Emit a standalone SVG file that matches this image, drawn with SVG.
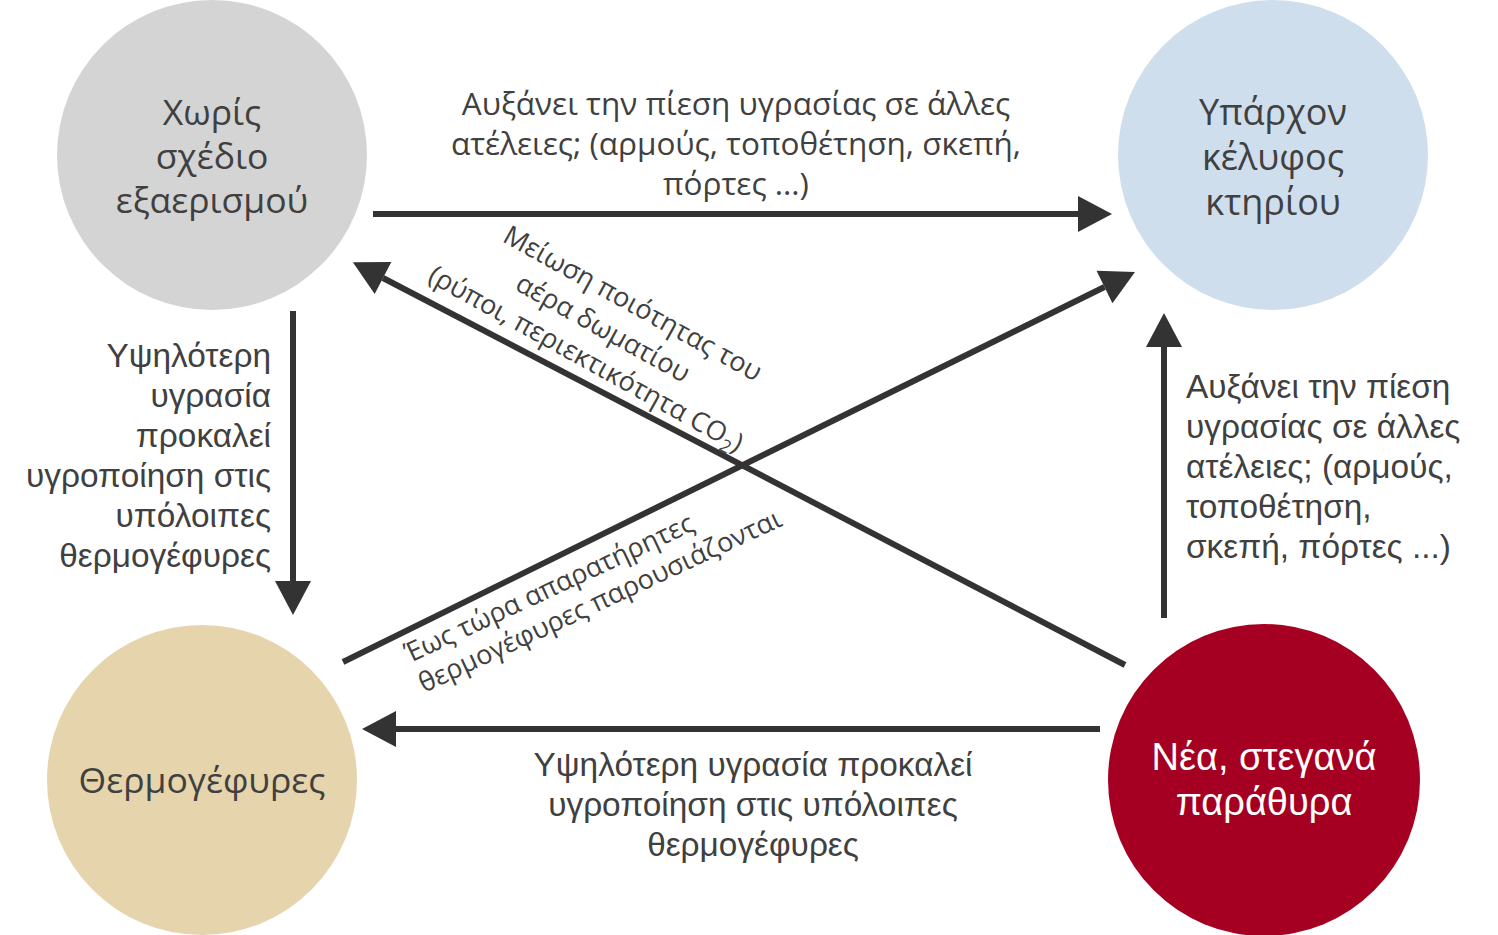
<svg xmlns="http://www.w3.org/2000/svg" width="1498" height="935" viewBox="0 0 1498 935">
<defs>
<marker id="ah" markerUnits="userSpaceOnUse" markerWidth="36" markerHeight="38" refX="0" refY="18" orient="auto" overflow="visible">
<path d="M0,0 L34,18 L0,36 Z" fill="#333333"/>
</marker>
<style>
.conn line{stroke:#333333;stroke-width:6;fill:none;marker-end:url(#ah)}
.ct{font-family:"Open Sans","DejaVu Sans",sans-serif;font-size:35.5px;fill:#404040;text-anchor:middle}
.lb{font-family:"Liberation Sans",Arial,sans-serif;font-size:33.4px;fill:#404040}
.wt{font-family:"Liberation Sans",Arial,sans-serif;font-size:38px;fill:#ffffff;text-anchor:middle}
.lt{font-family:"Open Sans","DejaVu Sans",sans-serif;font-size:31.5px;fill:#404040;text-anchor:middle}
.rt{font-family:"Open Sans","DejaVu Sans",sans-serif;font-size:27px;fill:#404040}
</style>
</defs>
<rect width="1498" height="935" fill="#ffffff"/>
<g id="node-no-ventilation">
<circle cx="212" cy="155" r="155" fill="#d4d4d4"/>
<text class="ct" x="212" y="125">Χωρίς</text>
<text class="ct" x="212" y="169">σχέδιο</text>
<text class="ct" x="212" y="213">εξαερισμού</text>
</g>
<g id="node-envelope">
<circle cx="1273" cy="155" r="155" fill="#cfdeec"/>
<text class="ct" x="1273" y="125" style="font-size:36px">Υπάρχον</text>
<text class="ct" x="1273" y="170" style="font-size:36px">κέλυφος</text>
<text class="ct" x="1273" y="215" style="font-size:36px">κτηρίου</text>
</g>
<g id="node-thermal-bridges">
<circle cx="202" cy="780" r="155" fill="#e5d4ac"/>
<text class="ct" x="202" y="793">Θερμογέφυρες</text>
</g>
<g id="node-windows">
<circle cx="1264" cy="780" r="156" fill="#a50021"/>
<text class="wt" x="1264" y="770">Νέα, στεγανά</text>
<text class="wt" x="1264" y="815">παράθυρα</text>
</g>
<g id="connectors" class="conn">
<line x1="373" y1="214" x2="1078" y2="214"/>
<line x1="293" y1="311" x2="293" y2="581"/>
<line x1="1100" y1="729" x2="396" y2="729"/>
<line x1="1164" y1="618" x2="1164" y2="347"/>
<line x1="343" y1="662" x2="1104.5" y2="287"/>
<line x1="1125" y1="665" x2="383" y2="278"/>
</g>
<g id="labels">
<text class="lt" x="736" y="115">Αυξάνει την πίεση υγρασίας σε άλλες</text>
<text class="lt" x="736" y="155">ατέλειες; (αρμούς, τοποθέτηση, σκεπή,</text>
<text class="lt" x="736" y="195">πόρτες ...)</text>
<text class="lb" x="271" y="367" text-anchor="end">Υψηλότερη</text>
<text class="lb" x="271" y="407" text-anchor="end">υγρασία</text>
<text class="lb" x="271" y="447" text-anchor="end">προκαλεί</text>
<text class="lb" x="271" y="487" text-anchor="end">υγροποίηση στις</text>
<text class="lb" x="271" y="527" text-anchor="end">υπόλοιπες</text>
<text class="lb" x="271" y="567" text-anchor="end">θερμογέφυρες</text>
<text class="lb" x="1186" y="398">Αυξάνει την πίεση</text>
<text class="lb" x="1186" y="438">υγρασίας σε άλλες</text>
<text class="lb" x="1186" y="478">ατέλειες; (αρμούς,</text>
<text class="lb" x="1186" y="518">τοποθέτηση,</text>
<text class="lb" x="1186" y="558">σκεπή, πόρτες ...)</text>
<text class="lb" x="753" y="776" text-anchor="middle">Υψηλότερη υγρασία προκαλεί</text>
<text class="lb" x="753" y="816" text-anchor="middle">υγροποίηση στις υπόλοιπες</text>
<text class="lb" x="753" y="856" text-anchor="middle">θερμογέφυρες</text>
<g transform="translate(602,330) rotate(29)">
<text class="rt" x="14" y="-29" text-anchor="middle">Μείωση ποιότητας του</text>
<text class="rt" x="0" y="7" text-anchor="middle">αέρα δωματίου</text>
<text class="rt" x="0" y="42" text-anchor="middle">(ρύποι, περιεκτικότητα CO<tspan font-size="18" dy="6">2</tspan><tspan dy="-6">)</tspan></text>
</g>
<g transform="translate(410,663) rotate(-25)">
<text class="rt" x="0" y="0">Έως τώρα απαρατήρητες</text>
<text class="rt" x="0" y="33">θερμογέφυρες παρουσιάζονται</text>
</g>
</g>
</svg>
